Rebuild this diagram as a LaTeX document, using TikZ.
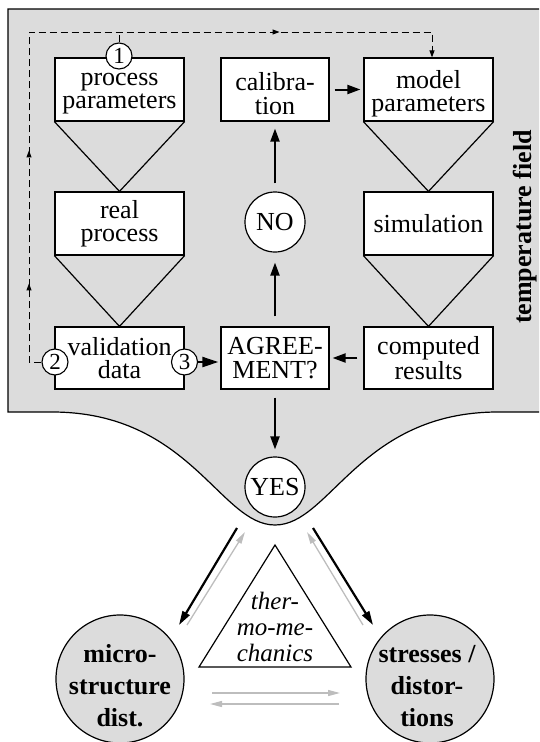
\documentclass[tikz,border=0pt]{standalone}
\usepackage{fontspec}
\setmainfont{Liberation Serif}
\usetikzlibrary{arrows.meta,decorations.markings}
\definecolor{panel}{HTML}{DCDCDC}
\definecolor{lightarr}{HTML}{BDBDBD}
\begin{document}
\begin{tikzpicture}[x=1pt,y=-1pt,
  box/.style={draw, line width=1.2pt, fill=white, minimum height=63pt, align=center, inner sep=0pt, font=\fontsize{26}{23.5}\selectfont},
  wbox/.style={box, minimum width=129pt},
  nbox/.style={box, minimum width=108pt},
  btxt/.style={align=center, inner sep=0pt, font=\fontsize{26}{23.5}\selectfont},
  num/.style={draw, circle, fill=white, line width=1.1pt, minimum size=26pt, inner sep=0pt, font=\fontsize{23}{23}\selectfont},
  yn/.style={draw, circle, fill=white, line width=1.2pt, minimum size=60pt, inner sep=0pt, font=\fontsize{26}{26}\selectfont},
  bigc/.style={draw, circle, fill=panel, line width=1.2pt, minimum size=128pt, inner sep=0pt},
  boldtxt/.style={align=center, inner sep=0pt, font=\bfseries\fontsize{26}{32}\selectfont},
  arr/.style={line width=2pt, -{Triangle[length=13pt,width=9pt]}},
  barr/.style={line width=2.2pt, -{Triangle[length=14pt,width=8pt]}},
  garr/.style={draw=lightarr, line width=1.3pt, -{Triangle[length=12pt,width=6pt]}},
  fun/.style={line width=1.2pt},
  dline/.style={line width=1pt, dash pattern=on 7pt off 4pt}
]
\useasboundingbox (0,0) rectangle (539,742);
\clip (0,0) rectangle (539,742);

% gray panel with funnel
\draw[fill=panel, line width=1.2pt] (8,9) -- (560,9) -- (560,412) -- (498,412)
  .. controls (360,412) and (330,525) .. (275,525)
  .. controls (220,525) and (190,412) .. (52,412) -- (8,412) -- cycle;

% boxes
\node[wbox] (pp) at (119.5,89.5) {};
\node[btxt, yshift=-4pt] (ppt) at (pp.center) {process\\parameters};
\node[wbox] (rp) at (119.5,223.5) {real\\process};
\node[wbox, minimum height=62pt] (vd) at (119.5,358) {validation\\data};
\node[nbox] (cal) at (275,89.5) {};
\node[btxt, yshift=-4pt] (calt) at (cal.center) {calibra-\\tion};
\node[nbox, minimum height=62pt] (ag) at (275,358) {AGREE-\\MENT?};
\node[wbox] (mp) at (428.5,89.5) {};
\node[btxt, yshift=-4pt] (mpt) at (mp.center) {model\\parameters};
\node[wbox] (sim) at (428.5,223.5) {simulation};
\node[wbox, minimum height=62pt] (cr) at (428.5,358) {computed\\results};

% funnels
\draw[fun] (pp.south west) -- (rp.north) -- (pp.south east);
\draw[fun] (rp.south west) -- (vd.north) -- (rp.south east);
\draw[fun] (mp.south west) -- (sim.north) -- (mp.south east);
\draw[fun] (sim.south west) -- (cr.north) -- (sim.south east);

% decision circles
\node[yn] (no) at (275,222) {NO};
\node[yn] (yes) at (275,487) {YES};

% numbered circles
\node[num] (c1) at (119,56) {1};
\node[num] (c2) at (55,362) {2};
\node[num] (c3) at (184.5,362) {3};

% dashed feedback
\coordinate (dl1) at (29,360);
\coordinate (dl2) at (29,32);
\coordinate (dr) at (432,32);
\draw[dline, -{Triangle[length=7pt,width=5pt]},
  postaction={decorate},
  decoration={markings,
    mark=at position 91pt with {\arrow{Triangle[length=7pt,width=5pt]}},
    mark=at position 224pt with {\arrow{Triangle[length=7pt,width=5pt]}},
    mark=at position 593pt with {\arrow{Triangle[length=7pt,width=5pt]}}}]
  (c2.west) -- (c2.west -| dl1) -- (dl2) -- (dr) -- (dr |- mp.north);
\draw[dline] (c1.north) -- (c1.north |- dl2);

% main arrows
\draw[arr, shorten <=10pt, shorten >=10pt] (ag.north) -- (no.south);
\draw[arr, shorten <=8pt, shorten >=7pt] (no.north) -- (cal.south);
\draw[arr, shorten <=5pt, shorten >=3pt] (cal.east) -- (mp.west);
\draw[arr, shorten <=6pt, shorten >=3pt] (cr.west) -- (ag.west -| ag.east);
\draw[line width=2pt, -{Triangle[length=16pt,width=10pt]}, shorten >=2pt] (c3.east) -- (c3.east -| ag.west);
\draw[arr, shorten <=8pt, shorten >=7pt] (ag.south) -- (yes.north);

\node[rotate=90, inner sep=0pt, font=\bfseries\fontsize{26}{26}\selectfont] (tf) at (525,227) {temperature field};

% thermo-mechanics triangle
\coordinate (ta) at (275,545);
\coordinate (tl) at (199,667);
\coordinate (tr) at (351,667);
\draw[fill=white, line width=1.2pt] (ta) -- (tl) -- (tr) -- cycle;
\node[align=center, inner sep=0pt, font=\itshape\fontsize{25}{26}\selectfont] (tm) at (275,627) {ther-\\mo-me-\\chanics};

% bottom circles
\node[bigc] (micro) at (120,679) {};
\node[boldtxt] (microtxt) at (120,686) {micro-\\structure\\dist.};
\node[bigc] (stress) at (430,679) {};
\node[boldtxt] (stresstxt) at (427,686) {stresses /\\distor-\\tions};

% bottom arrows
\coordinate (bl0) at (237,528);
\coordinate (bl1) at (179,625);
\coordinate (gl0) at (187,625);
\coordinate (gl1) at (245,532);
\coordinate (br0) at (313,528);
\coordinate (br1) at (373,625);
\coordinate (gr0) at (363,625);
\coordinate (gr1) at (307,532);
\draw[barr] (bl0) -- (bl1);
\draw[barr] (br0) -- (br1);
\draw[garr] (gl0) -- (gl1);
\draw[garr] (gr0) -- (gr1);
\coordinate (h1a) at (212,693);
\coordinate (h1b) at (340,693);
\coordinate (h2a) at (339,704);
\coordinate (h2b) at (210,704);
\draw[garr] (h1a) -- (h1b);
\draw[garr] (h2a) -- (h2b);
\end{tikzpicture}
\end{document}
